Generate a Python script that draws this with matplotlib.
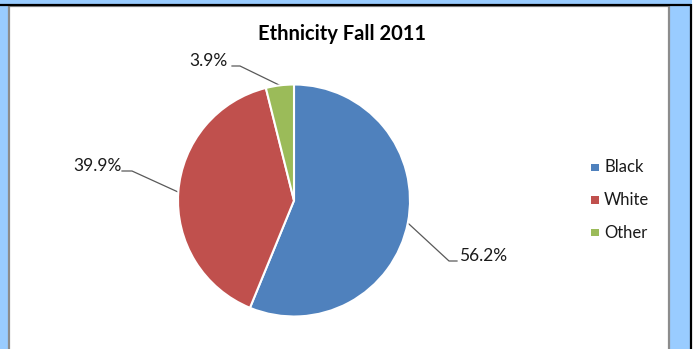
import numpy as np
import matplotlib
matplotlib.use("Agg")
import matplotlib.pyplot as plt
from matplotlib.patches import Rectangle

plt.rcParams['font.family'] = ['Lato', 'DejaVu Sans']

title = "Ethnicity Fall 2011"
groups = ["Black", "White", "Other"]
shares = [56.2, 39.9, 3.9]
colors = ["#4F81BD", "#C0504D", "#9BBB59"]

W, H = 697, 349
fig = plt.figure(figsize=(W / 100, H / 100), dpi=100, facecolor="#99CCFF")

# full-figure overlay in pixel units (y down) for the frame, labels and legend
bg = fig.add_axes([0, 0, 1, 1], zorder=0)
bg.set_xlim(0, W)
bg.set_ylim(H, 0)
bg.axis("off")
bg.patch.set_alpha(0)

bg.add_patch(Rectangle((692, 0), 5, H, facecolor="white", edgecolor="none"))
bg.plot([0, 691], [4.5, 4.5], color="black", lw=1.6, solid_capstyle="butt")
bg.plot([691, 691], [4, H], color="black", lw=1.6, solid_capstyle="butt")
bg.add_patch(Rectangle((9, 6), 660, H, facecolor="white", edgecolor="#8C8C8C", lw=1.6))

bg.text(342, 34.5, title, ha="center", va="center", fontsize=14.5,
        fontweight="bold", color="black")

# pie, centred at (294, 200.5) px with radius 116 px
cx, cy, r = 294, 200.5, 116
ax = fig.add_axes([(cx - r) / W, (H - cy - r) / H, 2 * r / W, 2 * r / H], zorder=1)
wedges, _ = ax.pie(shares, colors=colors, startangle=90, counterclock=False,
                   wedgeprops=dict(edgecolor="white", linewidth=1.5))
ax.set_xlim(-1, 1)
ax.set_ylim(-1, 1)
ax.axis("off")

# label anchors: (text x, text y, elbow start x, elbow end x, elbow y, alignment)
anchors = [
    (459, 256, 457, 449, 261, "left"),
    (122, 166, 122, 132, 171, "right"),
    (228, 61, 232, 240, 66, "right"),
]
to_px = bg.transData.inverted()
for w, val, (tx, ty, ex0, ex1, ey, ha) in zip(wedges, shares, anchors):
    mid = np.deg2rad((w.theta1 + w.theta2) / 2)
    px, py = to_px.transform(ax.transData.transform((np.cos(mid), np.sin(mid))))
    bg.plot([ex0, ex1, px], [ey, ey, py], color="#595959", lw=0.9, zorder=3)
    bg.text(tx, ty, f"{val:.1f}%", ha=ha, va="center", fontsize=12.5, color="#1a1a1a")

# legend
for i, (g, c) in enumerate(zip(groups, colors)):
    y = 167.5 + i * 32.5
    bg.add_patch(Rectangle((591, y - 4), 7.5, 7.5, facecolor=c, edgecolor="none"))
    bg.text(604, y, g, ha="left", va="center", fontsize=12, color="#1a1a1a")

fig.savefig("out.png", dpi=100, facecolor=fig.get_facecolor())
